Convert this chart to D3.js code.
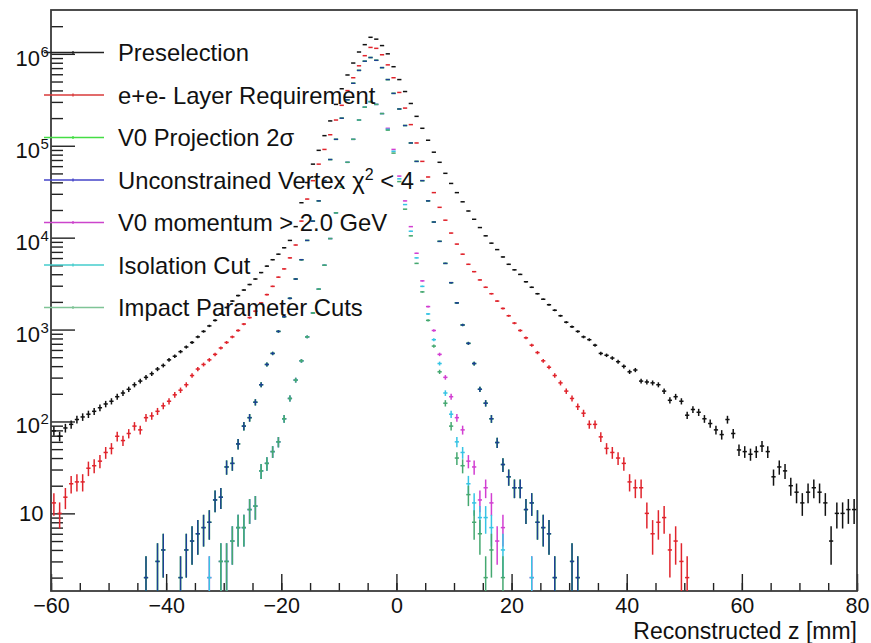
<!DOCTYPE html>
<html>
<head>
<meta charset="utf-8">
<title>Reconstructed z</title>
<script src="https://d3js.org/d3.v7.min.js"></script>
<style>
  body { margin: 0; background: #fff; }
  svg text { font-family: "Liberation Sans", Arial, Helvetica, sans-serif; fill: #111; }
</style>
</head>
<body>
<div id="container"></div>
<script>
    //-----------------------------DATA------------------------------//
    // bin contents, 1 mm bins, first bin starts at z = -60 mm
    const zFirst = -60;
    const zBin = 1;

    const preselection = [
        79, 69, 85, 93, 105, 112, 120, 129, 141, 155,
        166, 186, 204, 224, 251, 275, 302, 331, 372, 407,
        468, 513, 575, 646, 724, 832, 955, 1096, 1259, 1479,
        1738, 2042, 2344, 2692, 3090, 3548, 4169, 4898, 5754, 6607,
        7762, 9333, 13180, 23990, 39810, 63100, 89130, 128800, 186200, 281800,
        416900, 588800, 794300, 1047000, 1259000, 1514000, 1445000, 1230000, 1000000, 724400,
        524800, 389000, 288400, 208900, 154900, 114800, 85110, 66070, 50120, 38900,
        30900, 24550, 19500, 15850, 12880, 10470, 8710, 7413, 6166, 5129,
        4467, 3981, 3311, 2884, 2455, 2138, 1862, 1622, 1413, 1202,
        1072, 955, 832, 776, 676, 550, 525, 490, 447, 398,
        347, 363, 275, 269, 263, 251, 214, 170, 186, 166,
        117, 135, 126, 107, 95, 81, 72, 105, 74, 49,
        47, 44, 47, 54, 47, 25, 32, 29, 20, 17,
        13, 17, 19, 17, 13, 5, 10, 10, 11, 11
    ];

    const layerReq = [
        13, 10, 15, 21, 22, 22, 31, 33, 37, 46,
        51, 69, 62, 74, 89, 81, 110, 115, 129, 148,
        166, 195, 219, 251, 316, 372, 417, 468, 537, 631,
        724, 832, 977, 1148, 1349, 1585, 1950, 2399, 2951, 3715,
        4571, 6026, 8318, 15140, 26300, 41690, 63100, 91200, 131800, 190500,
        275400, 398100, 549500, 741300, 955000, 1175000, 1148000, 977200, 758600, 549500,
        380200, 257000, 169800, 107200, 67610, 45710, 30900, 21380, 15490, 11220,
        8511, 6607, 5129, 4266, 3467, 2884, 2455, 2042, 1698, 1413,
        1175, 977, 813, 676, 562, 457, 389, 316, 263, 214,
        178, 145, 123, 93, 93, 68, 51, 46, 40, 35,
        22, 19, 19, 10, 6, 8, 9, 4, 5, 3,
        2
    ];

    const v0Projection = [
        0, 0, 0, 0, 0, 0, 0, 0, 0, 0,
        0, 0, 0, 0, 0, 0, 2, 1, 3, 4,
        1, 1, 2, 4, 5, 6, 7, 8, 14, 15,
        32, 35, 57, 89, 110, 162, 251, 417, 550, 955,
        1380, 2188, 3548, 5754, 9333, 15140, 25120, 41690, 70790, 117500,
        199500, 316200, 478600, 660700, 831800, 912000, 851100, 707900, 524800, 371500,
        251200, 166000, 107200, 67610, 41690, 25120, 14790, 9120, 5248, 3236,
        1950, 1122, 708, 427, 224, 158, 107, 59, 34, 25,
        19, 19, 11, 13, 8, 7, 6, 2, 1, 1,
        3, 2
    ];

    const unconstrained = [
        0, 0, 0, 0, 0, 0, 0, 0, 0, 0,
        0, 0, 0, 0, 0, 0, 2, 1, 3, 4,
        1, 1, 2, 4, 5, 6, 7, 8, 14, 15,
        32, 35, 57, 89, 110, 162, 251, 417, 550, 955,
        1380, 2188, 3548, 5754, 9333, 15140, 25120, 41690, 70790, 117500,
        199500, 316200, 478600, 660700, 831800, 912000, 851100, 707900, 524800, 371500,
        251200, 166000, 107200, 67610, 41690, 25120, 14790, 9120, 5248, 3236,
        1950, 1122, 708, 427, 224, 158, 107, 59, 34, 25,
        19, 19, 11, 13, 8, 7, 6, 2, 1, 1,
        3, 2
    ];

    const v0Momentum = [
        0, 0, 0, 0, 0, 0, 0, 0, 0, 0,
        0, 0, 0, 0, 0, 0, 0, 0, 0, 0,
        0, 0, 0, 0, 0, 0, 0, 2, 0, 3,
        3, 5, 7, 7, 11, 12, 29, 35, 47, 60,
        107, 178, 282, 457, 832, 1514, 2754, 5012, 9772, 18620,
        35480, 66070, 117500, 190500, 263000, 302000, 281800, 223900, 154900, 91200,
        46770, 25120, 13180, 6761, 3388, 1778, 977, 537, 302, 186,
        110, 81, 37, 32, 14, 19, 13, 5, 7, 0,
        0, 0, 0, 2
    ];

    const isolation = [
        0, 0, 0, 0, 0, 0, 0, 0, 0, 0,
        0, 0, 0, 0, 0, 0, 0, 0, 0, 0,
        0, 0, 0, 0, 0, 0, 0, 2, 0, 3,
        3, 5, 7, 7, 11, 12, 29, 35, 47, 60,
        107, 178, 282, 457, 832, 1514, 2754, 5012, 9772, 18620,
        35480, 66070, 117500, 190500, 263000, 302000, 281800, 223900, 151400, 87100,
        43650, 22910, 11750, 6026, 2951, 1479, 776, 427, 204, 120,
        60, 46, 21, 13, 9, 9, 7, 1, 4, 0,
        0, 0, 0, 2
    ];

    const impactParam = [
        0, 0, 0, 0, 0, 0, 0, 0, 0, 0,
        0, 0, 0, 0, 0, 0, 0, 0, 0, 0,
        0, 0, 0, 0, 0, 0, 0, 0, 0, 3,
        3, 5, 7, 7, 11, 12, 29, 35, 47, 60,
        107, 178, 282, 457, 832, 1514, 2754, 5012, 9772, 18620,
        35480, 66070, 117500, 190500, 263000, 302000, 281800, 223900, 147900, 83180,
        40740, 20420, 10470, 5248, 2570, 1259, 661, 347, 158, 89,
        40, 33, 16, 8, 6, 2, 4, 1, 2
    ];

    const labels = [
        "Preselection",
        "e+e- Layer Requirement",
        "V0 Projection 2\u03c3",
        "Unconstrained Vertex \u03c7^{2} < 4",
        "V0 momentum > 2.0 GeV",
        "Isolation Cut",
        "Impact Parameter Cuts"
    ];

    const xTicks = [-60, -40, -20, 0, 20, 40, 60, 80];
    const yTicks = [10, 1e2, 1e3, 1e4, 1e5, 1e6];
    const xTitle = "Reconstructed z [mm]";

    const series = [preselection, layerReq, v0Projection, unconstrained, v0Momentum, isolation, impactParam];
    const markColors = ["#111111", "#e0242c", "#22cc22", "#1f3f95", "#d23fd2", "#36c4e4", "#45a870"];
    const legendColors = ["#222222", "#d83a3a", "#44dd44", "#4444c8", "#cc44cc", "#44cccc", "#7fc496"];

    //-----------------------------SVG-------------------------------//
    const width = 871, height = 643;
    const margin = {top: 10, right: 14, bottom: 52, left: 51};
    const x0 = margin.left, x1 = width - margin.right;
    const y0 = height - margin.bottom, y1 = margin.top;

    const svg = d3.select("div#container").append("svg")
        .attr("width", width)
        .attr("height", height);

    svg.append("rect").attr("width", width).attr("height", height).attr("fill", "#fff");

    //----------------------------SCALES-----------------------------//
    const yMin = 1.43, yMax = 3.0e6;
    const x = d3.scaleLinear().domain([-60, 80]).range([x0, x1]);
    const y = d3.scaleLog().domain([yMin, yMax]).range([y0, y1]);

    //-----------------------------AXES------------------------------//
    const minorX = d3.range(-60, 81, 5);
    const minorY = [];
    for (let e = 0; e <= 6; e++) {
        for (let m = 2; m <= 9; m++) {
            const v = m * Math.pow(10, e);
            if (v > yMin && v < yMax) minorY.push(v);
        }
    }

    const styleAxis = g => {
        g.select(".domain").remove();
        g.selectAll("line").attr("stroke", "#222").attr("stroke-width", 1.4);
    };

    svg.append("g")
        .attr("transform", `translate(0,${y0})`)
        .call(d3.axisBottom(x).tickValues(minorX).tickSize(-8).tickSizeOuter(0).tickFormat(""))
        .call(styleAxis);

    const xAxis = svg.append("g")
        .attr("transform", `translate(0,${y0})`)
        .call(d3.axisBottom(x).tickValues(xTicks).tickSize(-17).tickSizeOuter(0)
            .tickFormat(d => d < 0 ? "\u2212" + (-d) : String(d)))
        .call(styleAxis);
    xAxis.selectAll("text")
        .attr("y", 7)
        .attr("font-size", 21.5)
        .attr("font-family", "Liberation Sans, Arial, sans-serif")
        .attr("fill", "#111");

    svg.append("g")
        .attr("transform", `translate(${x0},0)`)
        .call(d3.axisLeft(y).tickValues(minorY).tickSize(-12).tickSizeOuter(0).tickFormat(""))
        .call(styleAxis);

    svg.append("g")
        .attr("transform", `translate(${x0},0)`)
        .call(d3.axisLeft(y).tickValues(yTicks).tickSize(-24).tickSizeOuter(0).tickFormat(""))
        .call(styleAxis);

    // y labels as 10^n
    const yLab = svg.append("g").attr("font-size", 22);
    yTicks.forEach(v => {
        const e = Math.round(Math.log10(v));
        const ty = y(v);
        if (e === 1) {
            yLab.append("text").attr("x", 43.5).attr("y", ty + 8)
                .attr("text-anchor", "end").text("10");
        } else {
            yLab.append("text").attr("x", 40).attr("y", ty + 12)
                .attr("text-anchor", "end").text("10");
            yLab.append("text").attr("x", 40.5).attr("y", ty + 3)
                .attr("font-size", 15).text(e);
        }
    });

    // frame
    svg.append("rect")
        .attr("x", x0).attr("y", y1)
        .attr("width", x1 - x0).attr("height", y0 - y1)
        .attr("fill", "none")
        .attr("stroke", "#3a3a3a")
        .attr("stroke-width", 1.8);

    svg.append("text")
        .attr("x", x1).attr("y", 639)
        .attr("text-anchor", "end")
        .attr("font-size", 23)
        .text(xTitle);

    //---------------------------POINTS------------------------------//
    svg.append("clipPath").attr("id", "plotclip")
        .append("rect").attr("x", x0).attr("y", y1)
        .attr("width", x1 - x0).attr("height", y0 - y1);

    const plot = svg.append("g").attr("clip-path", "url(#plotclip)");

    series.forEach((counts, s) => {
        const bins = counts
            .map((n, i) => ({lo: zFirst + i * zBin, n: n}))
            .filter(d => d.n >= yMin);

        const g = plot.append("g")
            .attr("stroke", markColors[s])
            .attr("stroke-width", 1.5);

        g.selectAll("line.h").data(bins).join("line")
            .attr("class", "h")
            .attr("x1", d => x(d.lo + 0.13 * zBin))
            .attr("x2", d => x(d.lo + 0.87 * zBin))
            .attr("y1", d => y(d.n))
            .attr("y2", d => y(d.n));

        g.selectAll("line.v").data(bins).join("line")
            .attr("class", "v")
            .attr("x1", d => x(d.lo + 0.5 * zBin))
            .attr("x2", d => x(d.lo + 0.5 * zBin))
            .attr("y1", d => y(Math.max(d.n - Math.sqrt(d.n), yMin)))
            .attr("y2", d => y(Math.min(d.n + Math.sqrt(d.n), yMax)));
    });

    //---------------------------LEGEND------------------------------//
    const legend = svg.append("g");
    labels.forEach((lab, i) => {
        const ly = 52.5 + 42.5 * i;
        legend.append("line")
            .attr("x1", 44).attr("x2", 104)
            .attr("y1", ly).attr("y2", ly)
            .attr("stroke", legendColors[i])
            .attr("stroke-width", 1.3);
        legend.append("line")
            .attr("x1", 73).attr("x2", 73)
            .attr("y1", ly - 1.5).attr("y2", ly + 1.5)
            .attr("stroke", legendColors[i])
            .attr("stroke-width", 1.3);

        const t = legend.append("text")
            .attr("x", 118).attr("y", ly + 8.5)
            .attr("font-size", 23.8);
        // split on ^{...} for superscripts
        const parts = lab.split(/\^\{([^}]*)\}/);
        parts.forEach((p, k) => {
            if (k % 2 === 0) {
                t.append("tspan").attr("dy", k === 0 ? 0 : 9).text(p);
            } else {
                t.append("tspan").attr("dy", -9).attr("font-size", 16).text(p);
            }
        });
    });
</script>
</body>
</html>
